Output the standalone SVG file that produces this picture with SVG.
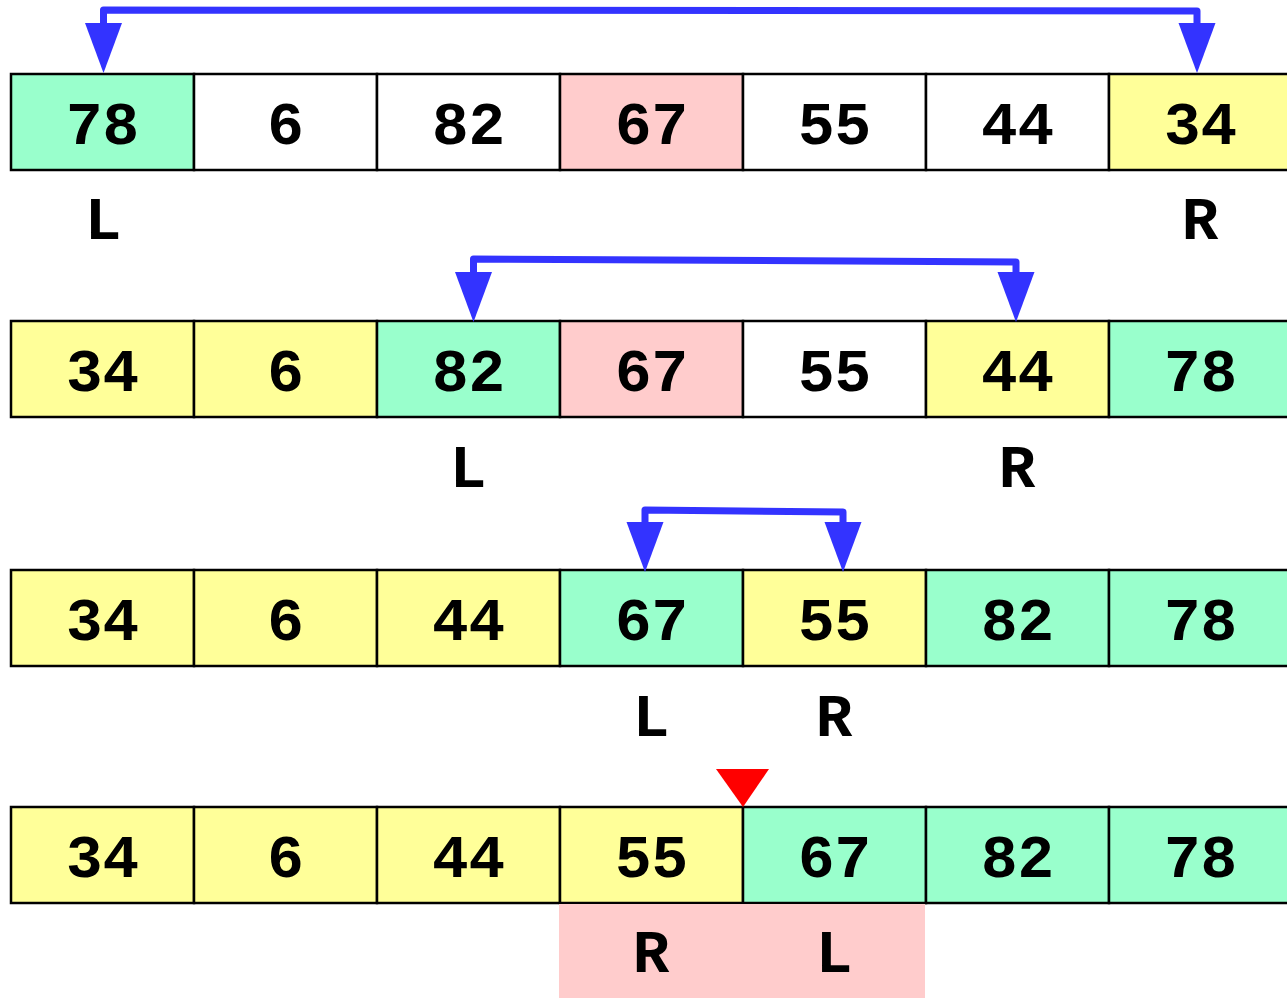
<svg xmlns="http://www.w3.org/2000/svg" width="1287" height="1003" viewBox="0 0 1287 1003">
<style>
.c{stroke:#000;stroke-width:2.5}
.w{fill:#fff}.g{fill:#99FFCC}.y{fill:#FFFF99}.p{fill:#FFCCCC}
</style>
<defs>
<marker id="ah" markerUnits="userSpaceOnUse" markerWidth="50" markerHeight="38" refX="0" refY="18.5" orient="auto-start-reverse" overflow="visible">
<path d="M0,0 L50,18.5 L0,37 z" fill="#3333FF"/>
</marker>
</defs>
<rect x="0" y="0" width="1287" height="1003" fill="#fff"/>
<g font-weight="bold" font-size="61" text-anchor="middle" fill="#000">
<g id="row1">
<g id="r1c1"><rect class="c g" x="11" y="74" width="183" height="96"/><text font-family="'Liberation Mono', monospace" x="102.5" y="144">78</text></g>
<g id="r1c2"><rect class="c w" x="194" y="74" width="183" height="96"/><text font-family="'Liberation Mono', monospace" x="285.5" y="144">6</text></g>
<g id="r1c3"><rect class="c w" x="377" y="74" width="183" height="96"/><text font-family="'Liberation Mono', monospace" x="468.5" y="144">82</text></g>
<g id="r1c4"><rect class="c p" x="560" y="74" width="183" height="96"/><text font-family="'Liberation Mono', monospace" x="651.5" y="144">67</text></g>
<g id="r1c5"><rect class="c w" x="743" y="74" width="183" height="96"/><text font-family="'Liberation Mono', monospace" x="834.5" y="144">55</text></g>
<g id="r1c6"><rect class="c w" x="926" y="74" width="183" height="96"/><text font-family="'Liberation Mono', monospace" x="1017.5" y="144">44</text></g>
<g id="r1c7"><rect class="c y" x="1109" y="74" width="183" height="96"/><text font-family="'Liberation Mono', monospace" x="1200.5" y="144">34</text></g>
<g id="r1L"><text font-family="'Liberation Mono', monospace" x="103" y="239">L</text></g>
<g id="r1R"><text font-family="'Liberation Mono', monospace" x="1200" y="239">R</text></g>
</g>
<g id="row2">
<g id="r2c1"><rect class="c y" x="11" y="321" width="183" height="96"/><text font-family="'Liberation Mono', monospace" x="102.5" y="391">34</text></g>
<g id="r2c2"><rect class="c y" x="194" y="321" width="183" height="96"/><text font-family="'Liberation Mono', monospace" x="285.5" y="391">6</text></g>
<g id="r2c3"><rect class="c g" x="377" y="321" width="183" height="96"/><text font-family="'Liberation Mono', monospace" x="468.5" y="391">82</text></g>
<g id="r2c4"><rect class="c p" x="560" y="321" width="183" height="96"/><text font-family="'Liberation Mono', monospace" x="651.5" y="391">67</text></g>
<g id="r2c5"><rect class="c w" x="743" y="321" width="183" height="96"/><text font-family="'Liberation Mono', monospace" x="834.5" y="391">55</text></g>
<g id="r2c6"><rect class="c y" x="926" y="321" width="183" height="96"/><text font-family="'Liberation Mono', monospace" x="1017.5" y="391">44</text></g>
<g id="r2c7"><rect class="c g" x="1109" y="321" width="183" height="96"/><text font-family="'Liberation Mono', monospace" x="1200.5" y="391">78</text></g>
<g id="r2L"><text font-family="'Liberation Mono', monospace" x="468" y="487">L</text></g>
<g id="r2R"><text font-family="'Liberation Mono', monospace" x="1017" y="487">R</text></g>
</g>
<g id="row3">
<g id="r3c1"><rect class="c y" x="11" y="570" width="183" height="96"/><text font-family="'Liberation Mono', monospace" x="102.5" y="640">34</text></g>
<g id="r3c2"><rect class="c y" x="194" y="570" width="183" height="96"/><text font-family="'Liberation Mono', monospace" x="285.5" y="640">6</text></g>
<g id="r3c3"><rect class="c y" x="377" y="570" width="183" height="96"/><text font-family="'Liberation Mono', monospace" x="468.5" y="640">44</text></g>
<g id="r3c4"><rect class="c g" x="560" y="570" width="183" height="96"/><text font-family="'Liberation Mono', monospace" x="651.5" y="640">67</text></g>
<g id="r3c5"><rect class="c y" x="743" y="570" width="183" height="96"/><text font-family="'Liberation Mono', monospace" x="834.5" y="640">55</text></g>
<g id="r3c6"><rect class="c g" x="926" y="570" width="183" height="96"/><text font-family="'Liberation Mono', monospace" x="1017.5" y="640">82</text></g>
<g id="r3c7"><rect class="c g" x="1109" y="570" width="183" height="96"/><text font-family="'Liberation Mono', monospace" x="1200.5" y="640">78</text></g>
<g id="r3L"><text font-family="'Liberation Mono', monospace" x="651" y="736">L</text></g>
<g id="r3R"><text font-family="'Liberation Mono', monospace" x="834" y="736">R</text></g>
</g>
<g id="row4">
<g id="r4c1"><rect class="c y" x="11" y="807" width="183" height="96"/><text font-family="'Liberation Mono', monospace" x="102.5" y="877">34</text></g>
<g id="r4c2"><rect class="c y" x="194" y="807" width="183" height="96"/><text font-family="'Liberation Mono', monospace" x="285.5" y="877">6</text></g>
<g id="r4c3"><rect class="c y" x="377" y="807" width="183" height="96"/><text font-family="'Liberation Mono', monospace" x="468.5" y="877">44</text></g>
<g id="r4c4"><rect class="c y" x="560" y="807" width="183" height="96"/><text font-family="'Liberation Mono', monospace" x="651.5" y="877">55</text></g>
<g id="r4c5"><rect class="c g" x="743" y="807" width="183" height="96"/><text font-family="'Liberation Mono', monospace" x="834.5" y="877">67</text></g>
<g id="r4c6"><rect class="c g" x="926" y="807" width="183" height="96"/><text font-family="'Liberation Mono', monospace" x="1017.5" y="877">82</text></g>
<g id="r4c7"><rect class="c g" x="1109" y="807" width="183" height="96"/><text font-family="'Liberation Mono', monospace" x="1200.5" y="877">78</text></g>
<g id="r4labels"><rect class="p" x="559" y="904" width="366" height="94"/><text font-family="'Liberation Mono', monospace" x="651" y="972">R</text><text font-family="'Liberation Mono', monospace" x="834" y="972">L</text></g>
<g id="r4split"><polygon points="716,769 769,769 743,807" fill="#FF0000"/></g>
</g>
</g>
<g id="connectors" fill="none" stroke="#3333FF" stroke-width="7" stroke-linejoin="round">
<path d="M103.5,23 L103.5,10 L1197,11 L1197,23" marker-start="url(#ah)" marker-end="url(#ah)"/>
<path d="M473.5,272 L473.5,259 L1016,262 L1016,272" marker-start="url(#ah)" marker-end="url(#ah)"/>
<path d="M645,522 L645,510 L843,512 L843,522" marker-start="url(#ah)" marker-end="url(#ah)"/>
</g>
</svg>
